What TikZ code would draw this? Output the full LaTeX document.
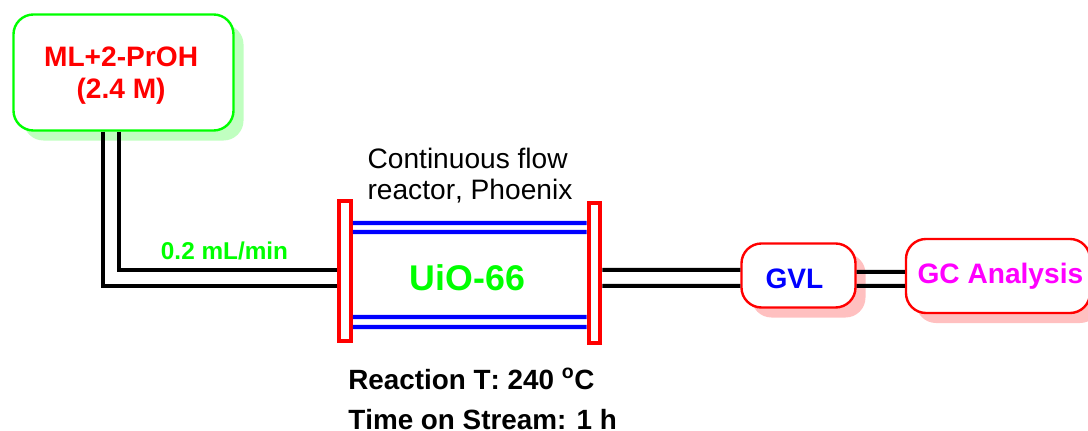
\documentclass[tikz,border=0pt]{standalone}
\usepackage{fontspec}
\setmainfont[Kerning=Off]{Liberation Sans}
\usetikzlibrary{shadows}
\definecolor{pgreen}{RGB}{0,255,0}
\definecolor{pmagenta}{RGB}{255,0,255}
\tikzset{
	box/.style = {draw, rounded corners=.5cm, line width=.06cm, fill=white, inner sep=0, align=center, font=\fontsize{20}{22.8}\selectfont\bfseries},
	greenbox/.style = {box, draw=pgreen, text=red, general shadow={shadow xshift=.25cm, shadow yshift=-.25cm, fill={rgb,255:red,192;green,255;blue,192}}},
	redbox/.style = {box, draw=red, general shadow={shadow xshift=.25cm, shadow yshift=-.25cm, fill={rgb,255:red,255;green,192;blue,192}}},
	flange/.style = {draw=red, line width=.1cm, inner sep=0, minimum width=.29cm, minimum height=3.5cm},
	pipe/.style = {draw=black, line width=.1cm},
	frit/.style = {draw=blue, line width=.11cm}
}
\newcommand{\dropby}[2]{\raisebox{0pt}[\dimexpr\height+#1\relax][\depth]{#2}}
\begin{document}
\begin{tikzpicture}[x=.025cm, y=-.025cm]
	\useasboundingbox (0,0) rectangle (1088,431);
	\node [greenbox, minimum width=5.5cm, minimum height=2.9cm] (feed) at (123.5,72.5) {\dropby{.2cm}{\begin{tabular}{@{}c@{}}ML+2-PrOH\\(2.4 M)\end{tabular}}\hspace{.12cm}};
	\node [redbox, minimum width=2.85cm, minimum height=1.6cm, text=blue] (gvl) at (798.5,275.5) {\dropby{.15cm}{GVL}\hspace{.2cm}};
	\node [redbox, minimum width=4.6cm, minimum height=1.85cm, text=pmagenta] (gc) at (998,276) {\hspace*{.12cm}GC Analysis};
	\node [flange] (inlet) at (345,271) {};
	\node [flange] (outlet) at (594.5,273) {};
	\draw [pipe] ([xshift=-.5125cm]feed.south) |- ([yshift=-.375cm]inlet.west);
	\draw [pipe] ([xshift=-.1125cm]feed.south) |- ([yshift=.025cm]inlet.west);
	\draw [pipe] ([yshift=.075cm]outlet.east) -- ([yshift=.14cm]gvl.west);
	\draw [pipe] ([yshift=-.325cm]outlet.east) -- ([yshift=-.26cm]gvl.west);
	\draw [pipe] ([yshift=.09cm]gvl.east) -- ([yshift=.1cm]gc.west);
	\draw [pipe] ([yshift=-.26cm]gvl.east) -- ([yshift=-.25cm]gc.west);
	\draw [frit] ([yshift=1.2cm]inlet.east) -- ([yshift=1.25cm]outlet.west);
	\draw [frit] ([yshift=.975cm]inlet.east) -- ([yshift=1.025cm]outlet.west);
	\draw [frit] ([yshift=-1.15cm]inlet.east) -- ([yshift=-1.1cm]outlet.west);
	\draw [frit] ([yshift=-1.4cm]inlet.east) -- ([yshift=-1.35cm]outlet.west);
	\node [text=pgreen, font=\fontsize{17.3}{20}\selectfont\bfseries] (rate) at (224.5,251) {0.2 mL/min};
	\node [text=pgreen, font=\fontsize{25.4}{28}\selectfont\bfseries] (bed) at (467.5,278) {UiO-66};
	\node [align=left, font=\fontsize{20}{22}\selectfont] (reactor) at (470,176) {Continuous flow\\reactor, Phoenix};
	\node [align=left, anchor=north west, inner sep=0, font=\fontsize{19.8}{28.2}\selectfont\bfseries] (cond) at (348,368) {Reaction T: 240 \textsuperscript{o}C\\Time on Stream: 1 h};
\end{tikzpicture}
\end{document}
